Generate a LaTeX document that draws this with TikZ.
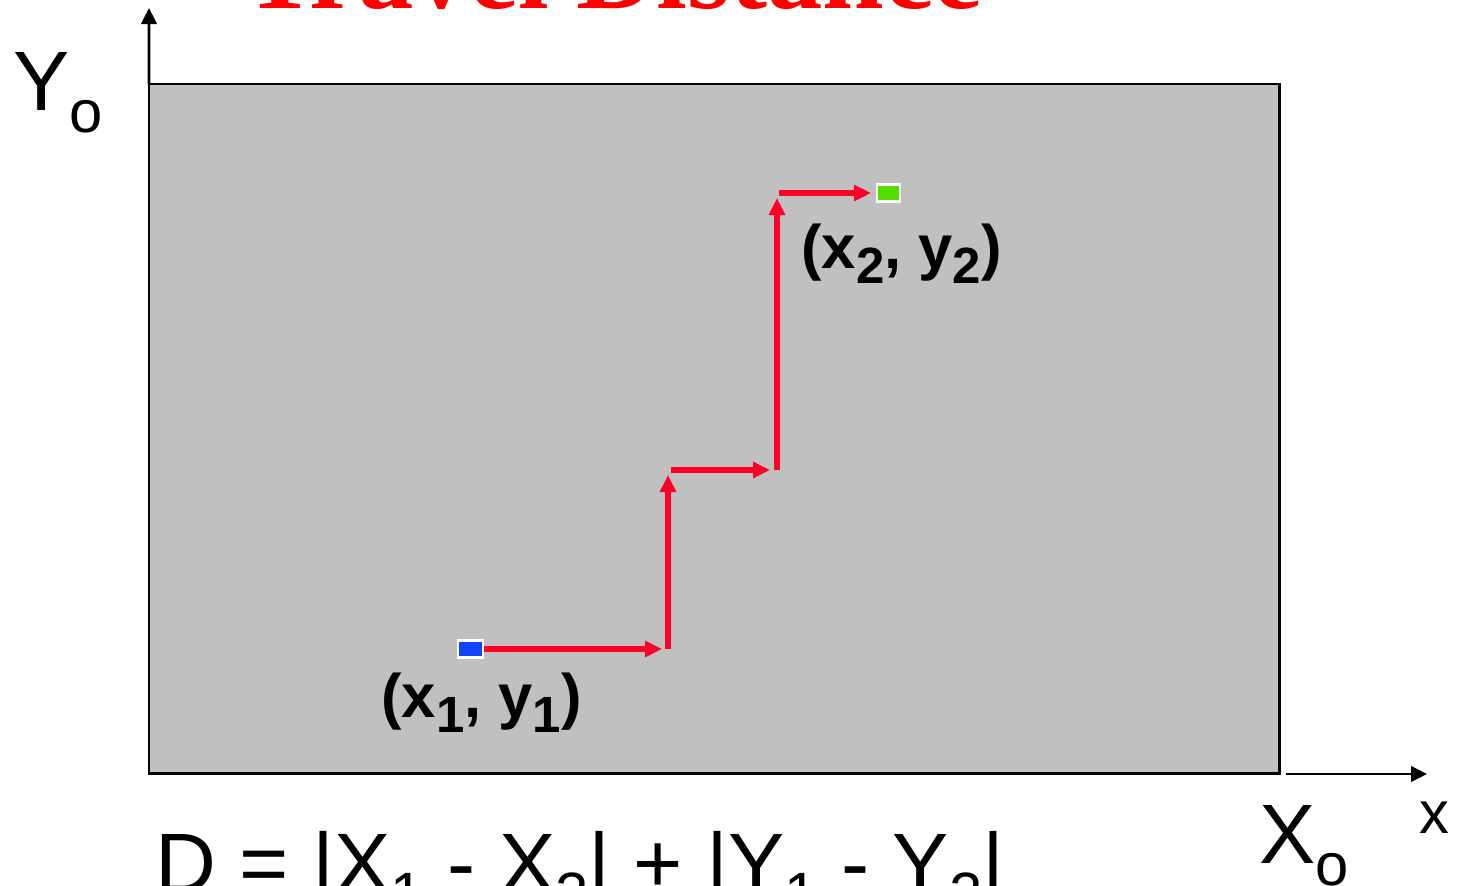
\documentclass[tikz,border=0pt]{standalone}
\usepackage{fontspec}
\usepackage{graphicx}
\usepackage{xcolor}
\usetikzlibrary{arrows.meta, positioning, calc}
\setmainfont{Liberation Sans}
\newfontfamily\titleFont{Liberation Serif}
\definecolor{pathRed}{RGB}{255,0,40}
\definecolor{planeGray}{RGB}{192,192,192}
\definecolor{startBlue}{RGB}{17,68,255}
\definecolor{endGreen}{RGB}{85,221,0}
\newcommand{\axSub}[1]{\raisebox{-0.22cm}{\fontsize{17}{17}\selectfont #1}}
\newcommand{\ptSub}[1]{\raisebox{-0.15cm}{\fontsize{14.5}{14.5}\selectfont #1}}
\tikzset{
  planeBox/.style={rectangle, draw=black, line width=0.85pt, fill=planeGray, inner sep=0pt, outer sep=0pt},
  axisArr/.style={line width=0.75pt, -{Triangle[length=1.6mm, width=1.55mm]}},
  ptStart/.style={rectangle, draw=white, line width=0.65pt, fill=startBlue, minimum width=0.255cm, minimum height=0.17cm, inner sep=0pt},
  ptEnd/.style={rectangle, draw=white, line width=0.65pt, fill=endGreen, minimum width=0.225cm, minimum height=0.17cm, inner sep=0pt},
  hopArr/.style={draw=pathRed, line width=1.5pt, -{Triangle[length=1.7mm, width=1.55mm]}},
  ptLabel/.style={font=\fontsize{17.5}{17.5}\selectfont\bfseries, inner sep=0pt, anchor=base},
  axLabel/.style={font=\fontsize{24}{24}\selectfont, inner sep=0pt, anchor=base west},
}

\begin{document}
\begin{tikzpicture}
\useasboundingbox (0,0) rectangle (14.63,8.85);
\node (plane) [planeBox, minimum width=11.30cm, minimum height=6.89cm] at (7.14,4.565) {};
\node (title) [font=\titleFont\bfseries\fontsize{31.5}{31.5}\selectfont, text=red, anchor=base, inner sep=0pt] at (6.13,8.77) {Travel Distance};

% axes
\coordinate (yTip) at (1.49,8.77);
\coordinate (xTail) at (12.86,1.11);
\coordinate (xTip) at (14.27,1.11);
\draw [axisArr] (plane.north west) -- (yTip);
\draw [axisArr] (xTail) -- (xTip);
\node (yName) [axLabel] at (0.13,7.75) {Y\axSub{o}};
\node (xName) [axLabel] at (12.59,0.22) {X\axSub{o}};
\node (xSmall) [axLabel, font=\fontsize{17}{17}\selectfont] at (14.19,0.52) {x};

% start, end and the steps between them
\node (start) [ptStart] at (4.705,2.36) {};
\node (goal) [ptEnd] at (8.885,6.92) {};
\coordinate (turnA) at (6.68,2.36);
\coordinate (turnB) at (6.68,4.15);
\coordinate (turnC) at (7.77,4.15);
\coordinate (turnD) at (7.77,6.92);
\draw [hopArr, shorten >=0.06cm] (start.east) -- (turnA);
\draw [hopArr, shorten >=0.05cm] (turnA) -- (turnB);
\draw [hopArr, shorten <=0.03cm, shorten >=0.07cm] (turnB) -- (turnC);
\draw [hopArr, shorten >=0.05cm] (turnC) -- (turnD);
\draw [hopArr, shorten <=0.02cm, shorten >=0.05cm] (turnD) -- (goal);

\node (startName) [ptLabel] at (4.815,1.68) {(x\ptSub{1}, y\ptSub{1})};
\node (goalName) [ptLabel] at (9.015,6.17) {(x\ptSub{2}, y\ptSub{2})};

\node (dist) [axLabel] at (1.55,-0.07) {D = |X\axSub{1} - X\axSub{2}| + |Y\axSub{1} - Y\axSub{2}|};
\end{tikzpicture}
\end{document}
